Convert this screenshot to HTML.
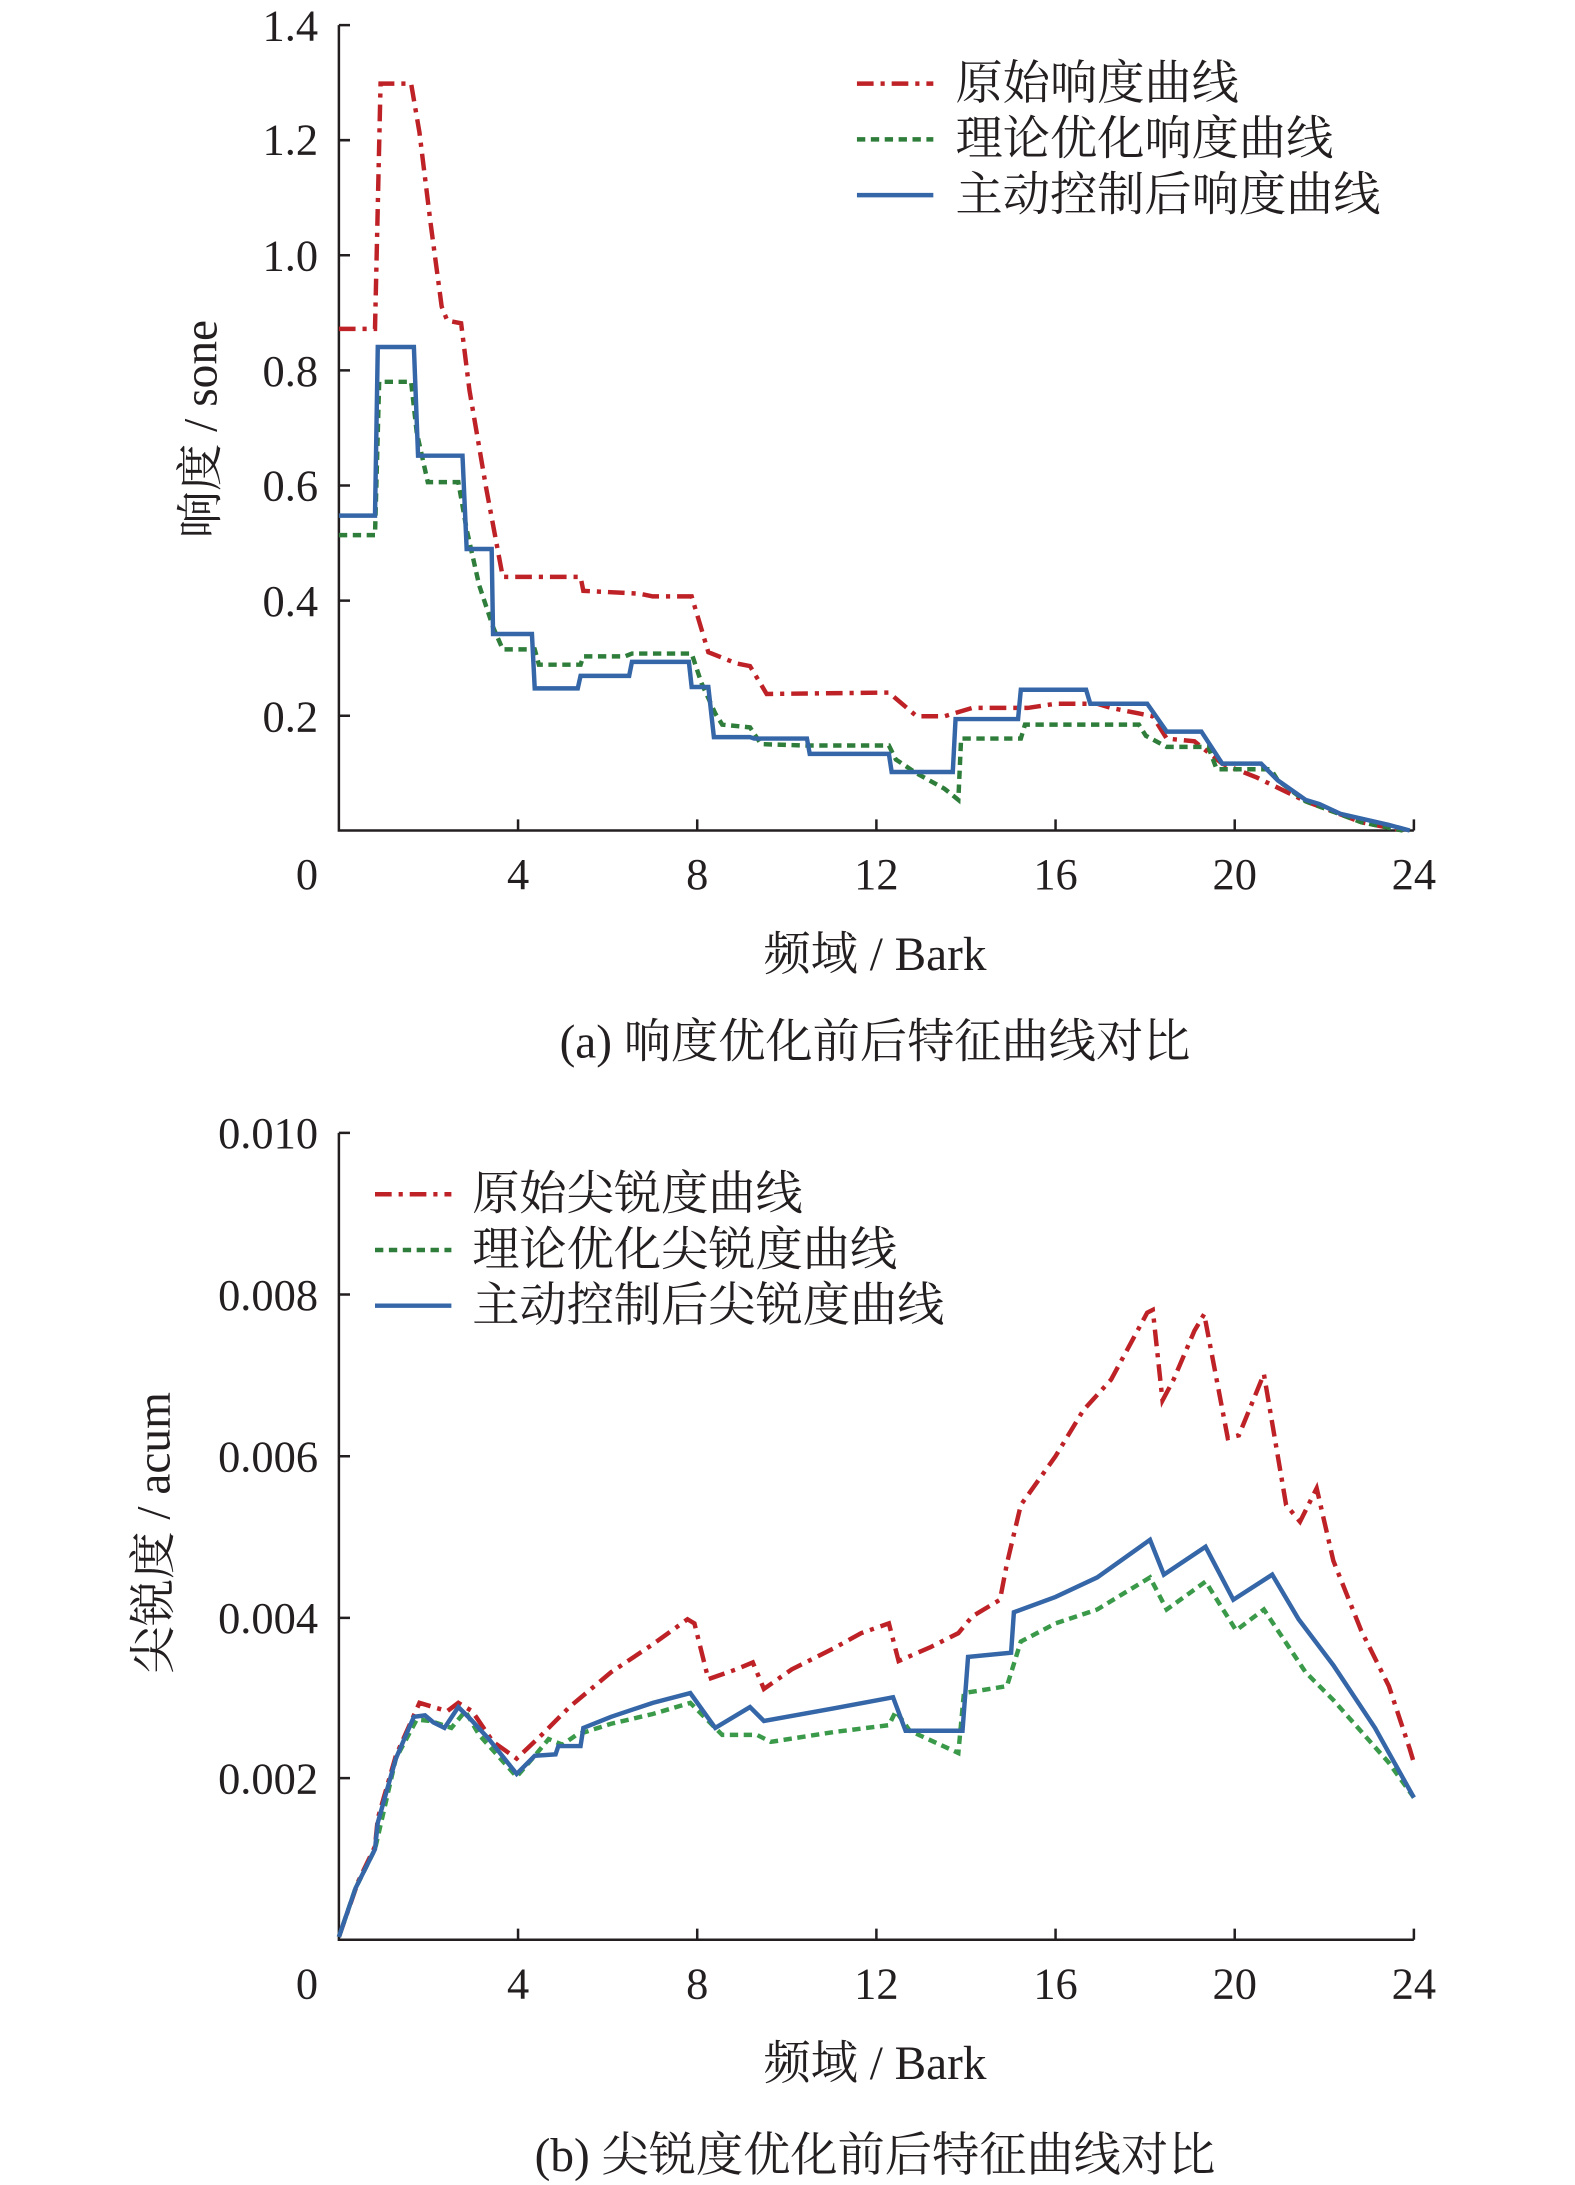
<!DOCTYPE html>
<html><head><meta charset="utf-8"><style>
html,body{margin:0;padding:0;background:#fff;}
svg{display:block;}
text{font-family:"Liberation Serif","Noto Serif CJK SC","Noto Sans CJK SC",serif;fill:#231f20;}
</style></head><body>
<svg width="1575" height="2185" viewBox="0 0 1134 1568" preserveAspectRatio="none" xmlns="http://www.w3.org/2000/svg">
<g stroke="#231f20" stroke-width="1.8" fill="none">
<path d="M244,18V596H1018"/>
<path d="M244,18h8M244,100.6h8M244,183.2h8M244,265.8h8M244,348.4h8M244,431h8M244,513.6h8"/>
<path d="M373,596v-8M502,596v-8M631,596v-8M760,596v-8M889,596v-8M1018,596v-8"/>
<path d="M244,813V1392H1018"/>
<path d="M244,813h8M244,929h8M244,1045h8M244,1161h8M244,1276h8"/>
<path d="M373,1392v-8M502,1392v-8M631,1392v-8M760,1392v-8M889,1392v-8M1018,1392v-8"/>
</g>
<g font-size="32" text-anchor="end">
<text x="229" y="29">1.4</text><text x="229" y="111">1.2</text><text x="229" y="194">1.0</text><text x="229" y="277">0.8</text><text x="229" y="359">0.6</text><text x="229" y="442">0.4</text><text x="229" y="525">0.2</text>
<text x="229" y="824">0.010</text><text x="229" y="940">0.008</text><text x="229" y="1056">0.006</text><text x="229" y="1172">0.004</text><text x="229" y="1287">0.002</text>
</g>
<g font-size="32" text-anchor="middle">
<text x="221" y="638">0</text><text x="373" y="638">4</text><text x="502" y="638">8</text><text x="631" y="638">12</text><text x="760" y="638">16</text><text x="889" y="638">20</text><text x="1018" y="638">24</text>
<text x="221" y="1434">0</text><text x="373" y="1434">4</text><text x="502" y="1434">8</text><text x="631" y="1434">12</text><text x="760" y="1434">16</text><text x="889" y="1434">20</text><text x="1018" y="1434">24</text>
</g>
<g font-size="34" text-anchor="middle">
<text x="630" y="696">频域 / Bark</text>
<text x="630" y="759">(a) 响度优化前后特征曲线对比</text>
<text x="630" y="1492">频域 / Bark</text>
<text x="630" y="1558">(b) 尖锐度优化前后特征曲线对比</text>
<text transform="translate(156,308) rotate(-90)">响度 / sone</text>
<text transform="translate(122,1100) rotate(-90)">尖锐度 / acum</text>
</g>
<g fill="none" stroke-width="3.2">
<polyline stroke="#be2227" stroke-dasharray="12,5,3,5" points="244,236 270,236 274,60 296,60 302,95 310,160 318,220 322,230 332,232 338,280 350,350 362,414 418,414 420,424 460,426 470,428 498,428 510,468 530,476 540,478 552,498 640,497 660,514 680,514 700,508 740,508 760,505 790,505 800,508 820,512 830,514 840,530 860,532 880,548 905,558 940,575 980,590 1010,596"/>
<polyline stroke="#2f7d3a" stroke-dasharray="6,4" points="244,384 270,384 273,274 296,274 300,310 308,346 330,346 336,380 345,420 355,450 362,466 385,466 388,477 418,477 420,471 450,471 455,469 498,469 505,490 515,512 520,520 540,522 548,534 580,535 640,535 645,545 660,555 680,566 690,574 692,530 735,530 738,520 820,520 825,528 840,536 870,536 876,552 915,552 920,560 940,575 980,590 1010,596"/>
<polyline stroke="#3566a8" points="244,370 270,370 272,249 298,249 301,327 333,327 336,394 354,394 355,455 383,455 385,494 416,494 418,485 453,485 455,475 496,475 498,493 510,493 514,529 540,529 543,530 581,530 583,541 640,541 642,554 686,554 688,516 733,516 735,495 782,495 785,505 826,505 840,525 865,525 880,548 908,548 920,560 940,574 950,577 965,584 1000,592 1015,596"/>
<polyline stroke="#be2227" stroke-dasharray="12,5,3,5" points="244,1390 258,1350 270,1325 272,1305 285,1260 302,1222 322,1228 330,1222 340,1228 355,1250 372,1262 390,1245 410,1225 440,1200 470,1180 495,1162 500,1165 510,1205 530,1198 542,1193 550,1212 570,1198 600,1183 620,1172 640,1165 647,1192 670,1182 690,1172 700,1160 720,1148 725,1122 735,1080 760,1045 780,1012 800,990 826,942 830,940 837,1005 845,990 860,955 867,943 884,1032 892,1030 910,986 926,1080 936,1092 948,1068 960,1120 980,1170 1000,1210 1015,1255 1018,1265"/>
<polyline stroke="#3a9a4a" stroke-dasharray="6,4" points="244,1390 256,1355 270,1327 285,1262 300,1234 310,1235 325,1240 335,1228 345,1245 372,1275 385,1260 395,1248 405,1252 415,1245 440,1237 470,1230 497,1222 520,1245 545,1245 555,1250 600,1243 640,1238 645,1228 655,1242 690,1258 694,1215 725,1210 735,1178 760,1165 790,1155 828,1132 840,1155 868,1135 890,1170 910,1155 940,1200 960,1220 1000,1265 1018,1290"/>
<polyline stroke="#3566a8" points="244,1390 256,1355 270,1327 272,1308 285,1262 298,1232 306,1231 312,1236 320,1240 330,1225 340,1235 352,1248 372,1273 385,1260 400,1259 402,1253 418,1253 420,1240 440,1232 470,1222 497,1215 515,1240 540,1225 550,1235 600,1226 643,1218 652,1242 693,1242 697,1189 728,1186 730,1157 760,1146 790,1132 828,1105 838,1130 868,1110 888,1148 916,1130 935,1162 960,1195 990,1240 1018,1290"/>
<line x1="617" y1="60" x2="672" y2="60" stroke="#be2227" stroke-dasharray="12,5,3,5"/>
<line x1="617" y1="100" x2="672" y2="100" stroke="#2f7d3a" stroke-dasharray="6,4"/>
<line x1="617" y1="140" x2="672" y2="140" stroke="#3566a8"/>
<line x1="270" y1="857" x2="325" y2="857" stroke="#be2227" stroke-dasharray="12,5,3,5"/>
<line x1="270" y1="897" x2="325" y2="897" stroke="#2f7d3a" stroke-dasharray="6,4"/>
<line x1="270" y1="937" x2="325" y2="937" stroke="#3566a8"/>
</g>
<g font-size="34">
<text x="688" y="71">原始响度曲线</text>
<text x="688" y="111">理论优化响度曲线</text>
<text x="688" y="151">主动控制后响度曲线</text>
<text x="340" y="868">原始尖锐度曲线</text>
<text x="340" y="908">理论优化尖锐度曲线</text>
<text x="340" y="948">主动控制后尖锐度曲线</text>
</g>
</svg>
</body></html>
